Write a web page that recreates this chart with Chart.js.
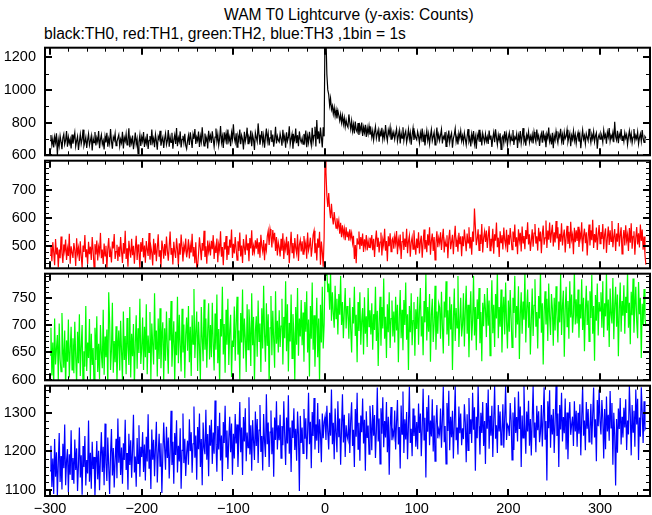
<!DOCTYPE html>
<html>
<head>
<meta charset="utf-8">
<script src="https://cdn.jsdelivr.net/npm/chart.js@4.4.1/dist/chart.umd.min.js"></script>
<style>
  html, body { margin:0; padding:0; background:#ffffff; }
  body { width:652px; height:515px; position:relative; overflow:hidden; font-family:"Liberation Sans", Arial, sans-serif; }
  .txt { position:absolute; white-space:nowrap; color:#000; font-size:15.6px; line-height:18px; }
  canvas { position:absolute; left:0; display:block; }
</style>
</head>
<body>
<div class="txt" id="title" style="left:224px; top:6px;">WAM T0 Lightcurve (y-axis: Counts)</div>
<div class="txt" id="subtitle" style="left:44px; top:25px;">black:TH0, red:TH1, green:TH2, blue:TH3 ,1bin = 1s</div>
<script>
// ---- data (1 bin = 1 s, first bin at t = -300 s) ----
const tStart = -300;
const binSize = 1;

const th0 = [
690,724,662,701,648,713,679,735,600,695,657,718,682,638,706,729,667,692,748,653,710,674,699,642,727,
671,703,739,655,689,716,633,684,728,670,698,757,659,681,711,645,694,731,662,688,719,630,704,677,742,
660,707,683,749,644,697,725,668,690,636,716,679,738,652,701,671,760,687,641,712,693,733,659,682,705,
726,656,698,676,744,642,708,686,731,663,695,765,650,703,674,721,637,684,739,667,700,610,681,725,657,
712,685,742,651,699,673,731,639,691,718,662,758,680,704,649,727,688,634,716,697,750,659,690,711,645,
700,733,664,689,754,652,712,679,738,641,694,724,669,766,655,707,684,746,648,697,719,676,731,661,640,
688,722,663,740,696,645,729,701,760,669,711,690,745,651,717,681,772,698,658,733,687,709,642,750,695,
721,675,747,697,652,711,764,686,728,661,702,779,680,716,645,741,694,733,667,757,688,713,655,737,699,
790,706,678,734,650,717,691,758,668,722,698,636,744,684,713,769,671,709,689,751,655,725,696,632,738,
710,684,795,725,665,701,748,677,720,646,712,764,689,733,660,706,753,681,727,652,699,774,673,717,692,
681,732,700,659,756,693,718,647,741,686,709,777,668,701,730,640,714,690,763,674,723,656,746,697,679,
705,668,731,689,752,650,717,678,744,694,661,768,683,722,775,654,815,698,746,672,770,709,648,772,716,
1400,1330,1095,1000,972,905,948,880,902,853,892,840,877,825,873,845,812,850,800,842,790,829,775,815,784,
772,850,801,760,810,748,788,733,806,756,742,797,725,779,750,800,718,771,739,786,712,768,731,778,726,
758,710,749,694,741,776,703,733,757,683,745,715,768,697,739,706,785,721,688,754,728,771,699,743,716,
741,698,732,762,686,720,753,673,735,705,771,690,729,748,679,713,759,699,738,665,724,766,694,734,707,
695,745,717,676,737,703,764,681,726,660,713,752,692,731,670,719,757,688,714,741,664,706,770,697,728,
690,724,759,672,715,701,742,655,720,694,751,679,716,736,646,703,727,763,683,714,667,735,705,749,688,
719,680,736,700,664,715,760,686,709,654,729,693,748,671,712,640,724,701,756,682,718,660,734,706,679,
730,686,713,669,751,699,721,651,706,740,680,759,710,666,724,692,735,636,707,719,676,747,695,728,662,
709,737,680,718,689,754,663,712,701,731,645,722,694,748,673,714,766,684,708,659,726,703,744,680,716,
690,726,672,743,708,681,757,700,720,657,711,734,677,751,696,719,650,729,704,770,685,714,667,738,643,
721,692,747,705,676,731,711,762,687,724,665,741,702,716,756,682,709,735,656,721,697,748,690,726,672,
715,740,684,724,643,706,754,698,720,670,733,710,689,762,713,677,728,701,745,683,718,737,640,707,727,
698,733,715,679,752,708,726,671,741,712,766,687,722,703,739,680,805,714,693,750,674,729,709,760,691,
720,684,738,705,726,666,714,750,697,732,676,711,761,690,721,701,743,670,708,731,686,755,703,679,715,
705
];

const th1 = [
468,505,447,515,479,433,526,471,496,425,489,458,535,476,441,507,483,524,452,492,466,545,438,500,478,
459,512,487,430,529,474,495,448,518,467,424,503,480,540,461,490,437,516,472,499,452,533,485,426,508,
471,521,450,498,478,548,458,489,437,510,466,502,422,491,530,462,484,443,517,493,544,455,481,506,448,
499,463,533,482,441,512,474,556,455,493,428,520,486,460,527,469,502,438,490,538,452,507,479,423,515,
481,530,461,503,442,519,489,466,548,453,499,478,432,527,470,511,447,494,543,463,486,425,521,497,456,
508,467,535,485,449,500,553,472,494,436,516,481,459,529,490,431,511,470,542,497,446,503,484,528,461,
486,525,457,503,478,545,466,498,440,515,426,430,474,532,494,451,512,485,556,462,500,438,521,482,506,
468,520,490,540,455,500,477,528,444,507,486,554,463,498,433,515,489,537,452,502,470,524,495,560,459,
509,475,533,491,451,518,484,549,464,503,441,526,496,470,542,486,511,447,530,493,557,468,501,480,522,
492,529,472,515,460,541,500,481,523,451,510,487,536,555,505,562,540,496,558,524,548,484,533,468,514,
497,464,527,485,547,455,510,490,534,469,518,440,501,552,478,512,457,530,494,475,543,448,506,523,482,
518,472,537,494,513,456,549,486,503,531,463,497,541,556,476,511,450,528,495,552,435,517,480,428,532,
820,765,680,640,690,632,600,652,605,578,622,590,565,600,570,592,545,584,533,575,540,563,522,568,535,
553,520,561,530,548,512,538,455,505,440,529,509,553,490,533,502,546,480,525,499,540,486,520,496,531,
506,540,486,527,462,521,556,498,531,478,515,549,468,524,503,563,485,519,447,536,501,547,481,522,530,
492,535,510,555,472,524,502,542,455,517,552,487,528,498,563,476,519,538,463,514,533,490,557,506,470,
528,494,550,475,517,538,460,513,560,490,523,479,543,503,568,470,520,546,484,533,452,511,554,497,530,
511,550,487,530,563,478,519,501,540,458,526,559,490,515,541,472,531,573,498,522,481,548,508,536,465,
536,501,560,522,483,546,512,568,493,533,470,553,517,635,570,504,527,561,486,542,509,580,478,530,553,
516,556,494,535,572,485,527,509,563,474,543,520,585,497,531,462,554,513,540,489,567,522,502,559,479,
541,506,565,527,488,553,516,578,499,532,472,561,521,548,482,571,512,537,490,558,526,586,507,543,484,
520,561,499,547,580,510,536,485,566,518,553,476,542,574,506,530,592,494,556,524,585,513,549,577,500,
550,514,590,528,568,487,545,517,582,503,538,560,478,532,573,509,552,493,588,524,541,472,566,515,557,
519,570,498,547,527,586,482,538,563,511,550,468,533,578,503,557,522,595,494,544,514,567,487,539,576,
510,551,526,580,490,542,564,477,531,571,505,557,518,590,497,535,562,484,546,517,583,500,540,568,473,
526,558,503,575,520,542,484,565,513,582,492,536,554,470,531,569,507,547,496,578,519,560,488,535,470,
435
];

const th2 = [
645,695,608,668,590,712,628,657,682,598,703,637,615,722,660,622,690,585,672,633,710,604,655,697,618,
676,612,706,642,593,688,630,720,607,661,700,582,652,624,735,616,668,640,711,600,684,627,658,588,695,
636,716,614,666,601,700,648,621,728,609,679,641,692,580,760,707,618,655,741,613,671,632,698,595,661,
690,617,708,651,598,725,636,680,610,713,660,627,733,604,684,643,702,587,667,718,620,694,649,748,629,
657,714,618,697,641,738,610,681,650,724,600,703,664,628,758,655,690,606,712,638,731,621,680,705,597,
694,635,725,659,611,713,672,744,624,669,707,593,688,645,752,630,719,664,615,730,650,701,603,682,714,
653,735,632,697,607,718,665,766,640,688,725,616,706,661,598,733,676,634,747,655,712,622,690,740,637,
700,641,741,668,617,721,655,756,630,693,590,711,679,770,646,702,613,728,664,748,627,690,719,605,672,
660,734,635,703,752,646,690,600,722,668,765,639,712,676,614,738,655,729,694,625,758,663,715,596,689,
716,642,745,670,703,614,731,657,772,684,633,740,662,720,593,695,753,645,726,673,622,762,666,708,650,
727,660,698,748,628,715,676,780,652,738,615,704,670,756,639,720,685,598,733,664,768,644,712,679,746,
663,723,633,742,688,762,650,710,606,735,675,778,655,718,624,693,750,641,712,596,737,668,770,657,700,
800,790,800,760,776,728,798,708,760,722,695,772,712,748,683,757,719,790,700,742,676,725,768,694,735,
722,675,750,693,650,733,703,770,680,719,632,742,689,760,664,708,731,646,751,684,716,660,768,697,727,
683,740,655,720,691,770,671,726,625,705,752,662,733,694,785,675,715,640,738,687,760,658,712,745,679,
725,668,752,690,737,632,713,764,676,728,654,746,700,778,673,720,618,735,687,758,663,708,742,644,729,
693,752,664,727,768,679,716,645,744,705,794,672,733,688,757,633,719,748,669,702,772,655,725,684,740,
732,675,761,699,648,743,714,780,683,727,662,752,692,738,618,710,767,671,731,695,790,660,708,750,679,
700,758,661,726,772,684,737,641,719,762,672,709,790,681,733,654,747,711,768,667,724,634,741,698,757,
728,678,768,699,745,644,718,782,685,737,660,757,712,800,676,733,697,765,650,723,752,683,778,706,657,
745,688,764,713,659,750,722,790,677,735,701,771,638,719,760,684,743,710,798,668,730,765,695,742,646,
708,767,680,736,784,697,724,657,753,712,800,686,740,628,725,762,701,748,671,776,716,682,757,731,662,
750,690,771,718,668,743,705,795,682,735,763,642,727,770,697,744,675,780,714,756,686,719,800,701,747,
703,765,677,738,712,784,691,750,652,726,772,700,745,670,762,713,792,684,735,635,755,708,776,681,742,
726,760,695,780,678,740,716,796,690,747,660,767,720,703,786,674,736,770,697,756,643,727,778,688,744,
717,773,684,752,722,798,695,741,665,761,718,785,686,733,770,706,676,779,720,750,640,739,700,766,712,
698
];

const th3 = [
1150,1215,1108,1182,1090,1232,1135,1198,1086,1170,1248,1121,1188,1102,1220,1157,1270,1113,1176,1206,1095,1193,1140,1255,1128,
1183,1117,1231,1152,1208,1098,1165,1262,1133,1190,1088,1214,1160,1240,1112,1178,1143,1280,1122,1197,1104,1225,1155,1186,1085,
1160,1227,1128,1202,1100,1185,1250,1147,1212,1113,1272,1170,1124,1236,1163,1090,1194,1258,1138,1209,1107,1180,1233,1131,1285,
1171,1238,1139,1210,1117,1221,1178,1282,1152,1196,1101,1246,1165,1229,1132,1203,1295,1146,1187,1109,1235,1169,1268,1135,1212,
1186,1250,1147,1218,1125,1238,1174,1296,1157,1205,1103,1257,1179,1230,1136,1211,1277,1120,1194,1246,1162,1221,1093,1190,1275,
1210,1153,1264,1183,1236,1130,1199,1305,1165,1225,1117,1248,1191,1281,1146,1215,1174,1260,1104,1203,1298,1170,1233,1137,1197,
1228,1166,1283,1201,1250,1145,1220,1316,1184,1241,1127,1263,1206,1298,1160,1232,1113,1275,1210,1193,1308,1179,1245,1136,1268,
1215,1282,1168,1249,1194,1332,1219,1148,1266,1205,1300,1177,1241,1124,1276,1222,1318,1186,1254,1155,1233,1290,1198,1272,1140,
1246,1182,1297,1221,1270,1160,1235,1328,1198,1262,1139,1289,1226,1312,1175,1249,1210,1340,1192,1268,1150,1281,1228,1178,1303,
1214,1284,1170,1255,1320,1199,1240,1151,1297,1226,1186,1348,1219,1275,1160,1250,1306,1193,1262,1135,1288,1230,1330,1205,1268,
1229,1295,1183,1266,1216,1330,1241,1165,1288,1221,1345,1194,1262,1147,1280,1235,1312,1204,1259,1176,1303,1244,1098,1292,1222,
1262,1195,1310,1233,1286,1180,1251,1352,1219,1277,1157,1302,1240,1338,1205,1270,1228,1325,1196,1283,1245,1172,1298,1234,1276,
1290,1230,1318,1252,1205,1300,1241,1360,1219,1274,1180,1311,1248,1198,1330,1237,1285,1166,1262,1348,1223,1295,1186,1268,1240,
1230,1299,1196,1280,1327,1214,1256,1160,1310,1238,1352,1206,1274,1176,1293,1250,1337,1221,1282,1150,1304,1235,1267,1193,1318,
1270,1203,1320,1241,1294,1183,1254,1365,1226,1285,1168,1312,1246,1340,1211,1279,1236,1328,1198,1290,1140,1262,1315,1229,1251,
1238,1306,1205,1276,1333,1218,1263,1156,1319,1245,1355,1196,1283,1231,1302,1180,1270,1368,1222,1259,1188,1311,1240,1293,1212,
1276,1206,1324,1248,1298,1188,1260,1362,1230,1287,1133,1315,1251,1345,1216,1280,1239,1335,1200,1293,1175,1268,1320,1234,1257,
1244,1311,1210,1281,1368,1224,1266,1168,1325,1253,1357,1203,1290,1237,1305,1182,1273,1370,1229,1262,1192,1316,1247,1298,1216,
1260,1232,1322,1275,1172,1296,1203,1338,1245,1283,1222,1352,1256,1314,1150,1290,1234,1370,1265,1192,1300,1248,1328,1214,1279,
1168,1325,1259,1360,1207,1292,1241,1318,1186,1280,1370,1233,1268,1196,1320,1252,1303,1217,1248,1322,1210,1285,1370,1230,1270,
1265,1240,1325,1280,1178,1301,1204,1340,1248,1289,1226,1355,1258,1316,1160,1293,1235,1370,1268,1194,1303,1252,1331,1215,1284,
1190,1283,1370,1237,1275,1198,1318,1255,1304,1224,1250,1320,1213,1290,1366,1232,1279,1125,1330,1260,1358,1210,1295,1244,1310,
1196,1277,1370,1240,1298,1160,1320,1257,1352,1226,1289,1247,1337,1205,1301,1180,1282,1328,1243,1270,1290,1214,1330,1252,1305,
1212,1300,1246,1322,1190,1285,1370,1241,1280,1203,1328,1259,1310,1225,1256,1323,1218,1294,1365,1236,1283,1175,1333,1265,1360,
1277,1244,1333,1285,1182,1310,1206,1342,1252,1295,1228,1356,1261,1325,1166,1300,1242,1112,1284,1197,1311,1258,1338,1218,1290,
1236,1313,1262,1335,1204,1280,1244,1370,1295,1190,1320,1250,1305,1212,1360,1270,1336,1178,1288,1238,1366,1300,1222,1330,1257,
1262
];

// ---- axes / tick values ----
const xRange = [-305.5, 354.5];
const xMajorTicks = [-300, -200, -100, 0, 100, 200, 300];
const xMinorTicks = [-280,-260,-240,-220,-180,-160,-140,-120,-80,-60,-40,-20,20,40,60,80,120,140,160,180,220,240,260,280,320,340];

const y0Range = [600, 1258];
const y0Major = [600, 800, 1000, 1200];
const y0Minor = [700, 900, 1100];

const y1Range = [422, 805];
const y1Major = [500, 600, 700];
const y1Minor = [440,460,480,520,540,560,580,620,640,660,680,720,740,760,780,800];

const y2Range = [599, 794];
const y2Major = [600, 650, 700, 750];
const y2Minor = [610,620,630,640,660,670,680,690,710,720,730,740,760,770,780,790];

const y3Range = [1085, 1370];
const y3Major = [1100, 1200, 1300];
const y3Minor = [1120,1140,1160,1180,1220,1240,1260,1280,1320,1340,1360];

// ---- layout ----
const FONT = '"Liberation Sans", Arial, sans-serif';
const panelAreas = [[45,158],[158,271],[271,383],[383,496]];
const PAD = 15, XAXIS_H = 20, YAXIS_W = 45;

const panels = [
  { values: th0, color:'#000000', range:y0Range, major:y0Major, minor:y0Minor },
  { values: th1, color:'#ff0000', range:y1Range, major:y1Major, minor:y1Minor },
  { values: th2, color:'#00ff00', range:y2Range, major:y2Major, minor:y2Minor },
  { values: th3, color:'#0000ff', range:y3Range, major:y3Major, minor:y3Minor }
];

function fmtX(v){ return v < 0 ? '\u2212' + Math.abs(v) : String(v); }

const framePlugin = {
  id: 'frame',
  afterDatasetsDraw(chart, args, opts) {
    const {ctx, chartArea:a} = chart;
    const xs = chart.scales.x, ys = chart.scales.y;
    ctx.save();
    ctx.strokeStyle = '#000';
    ctx.lineCap = 'butt';
    const vx = (v, len, w) => {
      const p = xs.getPixelForValue(v);
      const px = w % 2 ? Math.round(p) + 0.5 : Math.round(p);
      ctx.lineWidth = w;
      ctx.beginPath();
      ctx.moveTo(px, a.top); ctx.lineTo(px, a.top + len);
      ctx.moveTo(px, a.bottom); ctx.lineTo(px, a.bottom - len);
      ctx.stroke();
    };
    const hy = (v, len, w) => {
      const p = ys.getPixelForValue(v);
      const py = w % 2 ? Math.round(p) + 0.5 : Math.round(p);
      ctx.lineWidth = w;
      ctx.beginPath();
      ctx.moveTo(a.left, py); ctx.lineTo(a.left + len, py);
      ctx.moveTo(a.right, py); ctx.lineTo(a.right - len, py);
      ctx.stroke();
    };
    xMinorTicks.forEach(v => vx(v, 4, 1));
    xMajorTicks.forEach(v => vx(v, 7, 2));
    opts.minor.forEach(v => hy(v, 4, 1));
    opts.major.forEach(v => hy(v, 7, 2));
    ctx.lineWidth = 2;
    ctx.strokeRect(a.left, a.top, a.right - a.left, a.bottom - a.top);
    ctx.restore();
  }
};

panels.forEach((p, k) => {
  const [top, bottom] = panelAreas[k];
  const last = k === panels.length - 1;
  const h = (bottom - top) + PAD + (last ? XAXIS_H : PAD);
  const c = document.createElement('canvas');
  c.width = 652; c.height = h;
  c.style.top = (top - PAD) + 'px';
  c.style.width = '652px'; c.style.height = h + 'px';
  document.body.appendChild(c);

  const pts = p.values.map((v, i) => ({ x: tStart + i * binSize, y: v }));

  new Chart(c, {
    type: 'line',
    data: { datasets: [{
      data: pts,
      borderColor: p.color,
      borderWidth: 1.2,
      pointRadius: 0,
      fill: false,
      tension: 0,
      clip: 0
    }]},
    options: {
      responsive: false,
      animation: false,
      events: [],
      layout: { padding: { left: 0, right: 2, top: PAD, bottom: last ? 0 : PAD } },
      plugins: {
        legend: { display: false },
        tooltip: { enabled: false },
        frame: { major: p.major, minor: p.minor }
      },
      scales: {
        x: {
          type: 'linear',
          min: xRange[0], max: xRange[1],
          display: last,
          grid: { display: false, drawTicks: false },
          border: { display: false },
          afterBuildTicks: s => { s.ticks = xMajorTicks.map(v => ({ value: v })); },
          afterFit: s => { s.height = last ? XAXIS_H : 0; },
          ticks: {
            autoSkip: false, maxRotation: 0, minRotation: 0,
            padding: 4, color: '#000',
            font: { family: FONT, size: 14.5 },
            callback: v => fmtX(v)
          }
        },
        y: {
          type: 'linear',
          min: p.range[0], max: p.range[1],
          grid: { display: false, drawTicks: false },
          border: { display: false },
          afterBuildTicks: s => { s.ticks = p.major.map(v => ({ value: v })); },
          afterFit: s => { s.width = YAXIS_W; },
          ticks: {
            padding: 9, color: '#000',
            font: { family: FONT, size: 14.5 },
            callback: v => String(v)
          }
        }
      }
    },
    plugins: [framePlugin]
  });
});
</script>
</body>
</html>
